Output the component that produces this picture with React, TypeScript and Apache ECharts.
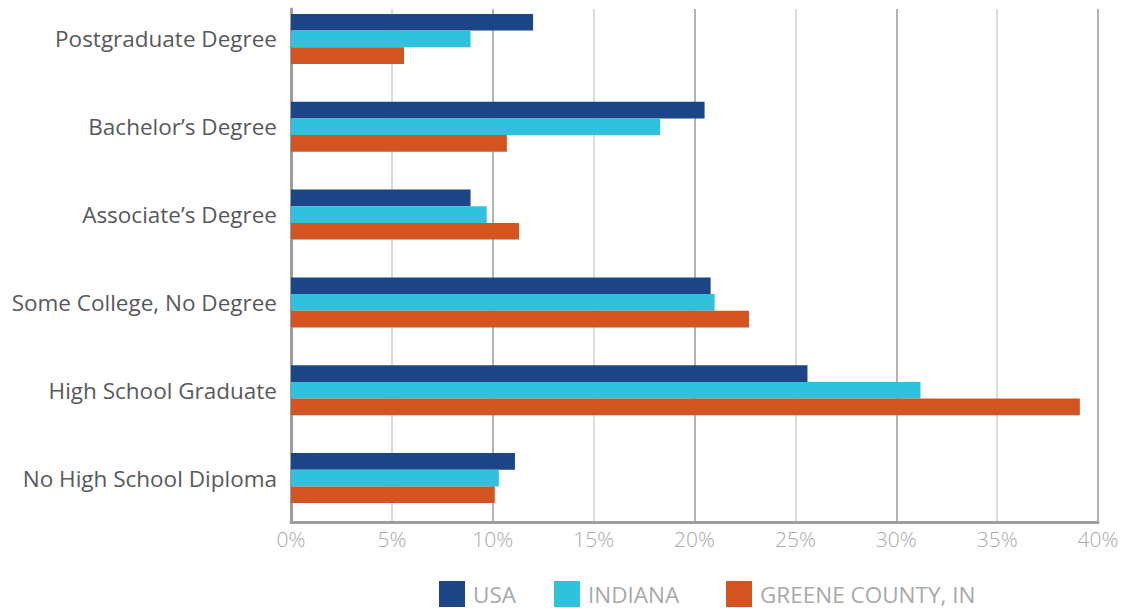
import React, { useEffect, useRef } from "react";
import * as echarts from "echarts";

const categories = [
  "Postgraduate Degree",
  "Bachelor’s Degree",
  "Associate’s Degree",
  "Some College, No Degree",
  "High School Graduate",
  "No High School Diploma",
];
const seriesNames = ["USA", "INDIANA", "GREENE COUNTY, IN"];
const usaValues = [12.0, 20.5, 8.9, 20.8, 25.6, 11.1];
const indianaValues = [8.9, 18.3, 9.7, 21.0, 31.2, 10.3];
const greeneValues = [5.6, 10.7, 11.3, 22.7, 39.1, 10.1];
const colors = ["#1c4588", "#2ec2dd", "#d35420"];
const legendLefts = [439, 554, 726];
const xMin = 0;
const xMax = 40;
const xInterval = 5;

export default function App() {
  const ref = useRef<HTMLDivElement>(null);
  useEffect(() => {
    if (!ref.current) return;
    const chart = echarts.init(ref.current, null, { renderer: "svg" });
    const font = "Open Sans";
    const values = [usaValues, indianaValues, greeneValues];
    chart.setOption({
      animation: false,
      backgroundColor: "#ffffff",
      legend: seriesNames.map((name, i) => ({
        left: legendLefts[i],
        top: 581,
        padding: 0,
        itemWidth: 26,
        itemHeight: 26,
        icon: "rect",
        selectedMode: false,
        textStyle: {
          color: "#a7a9ac",
          fontSize: 22.5,
          lineHeight: 20,
          fontFamily: font,
          padding: [0, 0, 6, 3],
        },
        data: [name],
      })),
      grid: [
        { left: 291, right: 39, top: 9, bottom: 86, outerBoundsMode: "none" },
        { left: 291, right: 39, top: -5, bottom: 86, outerBoundsMode: "none" },
      ],
      xAxis: [
        {
          gridIndex: 0,
          type: "value",
          min: xMin,
          max: xMax,
          interval: xInterval,
          axisLine: { show: true, lineStyle: { color: "#9d9ea0", width: 3 } },
          axisTick: { show: false },
          axisLabel: {
            formatter: "{value}%",
            color: "#a7a9ac",
            fontSize: 21,
            fontFamily: font,
            fontWeight: 300,
            margin: 6,
          },
          splitLine: {
            show: true,
            lineStyle: { color: ["#9a9a9c", "#cfcfd0"], width: 1.5 },
          },
        },
        {
          gridIndex: 1,
          type: "value",
          min: xMin,
          max: xMax,
          show: false,
          splitLine: { show: false },
        },
      ],
      yAxis: [
        {
          gridIndex: 0,
          type: "category",
          data: categories,
          inverse: true,
          axisLine: { show: true, lineStyle: { color: "#9d9ea0", width: 3 } },
          axisTick: { show: false },
          axisLabel: { show: false },
          splitLine: { show: false },
        },
        {
          gridIndex: 1,
          type: "category",
          data: categories,
          inverse: true,
          axisLine: { show: false },
          axisTick: { show: false },
          axisLabel: {
            color: "#58595b",
            fontSize: 22.5,
            fontFamily: font,
            margin: 14,
            padding: [0, 0, 6, 0],
          },
          splitLine: { show: false },
        },
      ],
      series: seriesNames.map((name, i) => ({
        name,
        type: "bar",
        xAxisIndex: 1,
        yAxisIndex: 1,
        data: values[i],
        barGap: "0%",
        barCategoryGap: "43%",
        itemStyle: { color: colors[i] },
      })),
    });
    return () => chart.dispose();
  }, []);
  return (
    <div
      ref={ref}
      style={{ position: "fixed", left: 0, top: 0, width: 1137, height: 608 }}
    />
  );
}
